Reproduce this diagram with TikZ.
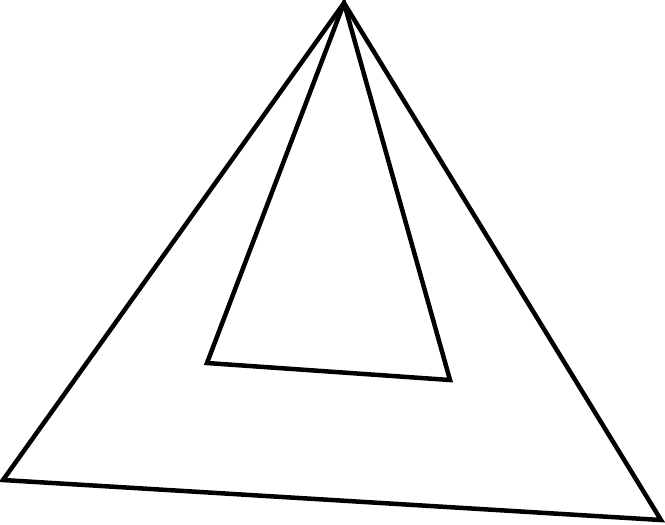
\documentclass[tikz,border=0pt]{standalone}
\usepackage{tikz}
\tikzstyle{pyramid}=[x=0.01cm, y=-0.01cm, line width=0.045cm, line join=miter]
\tikzstyle{face}=[draw=black]

\begin{document}
\begin{tikzpicture}[pyramid]
	\useasboundingbox (0,0) rectangle (665,524);
	%%
	\coordinate (top) at (344,3);
	\coordinate (left) at (3,480);
	\coordinate (right) at (661,520);
	%%
	\coordinate (inl) at (207,363);
	\coordinate (inr) at (450,380);
	%%%%%%
	\draw[face] (top) -- (left) -- (right) -- cycle;
	\draw[face] (top) -- (inl) -- (inr) -- cycle;
\end{tikzpicture}
\end{document}
